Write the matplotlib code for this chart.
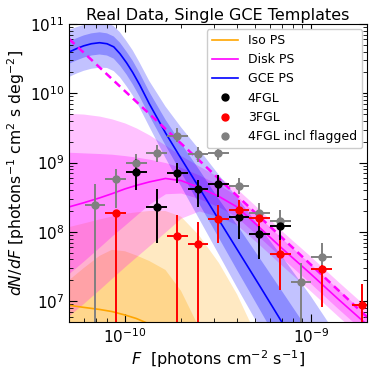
import numpy as np
import matplotlib
matplotlib.use('Agg')
import matplotlib.pyplot as plt
from matplotlib.lines import Line2D
from matplotlib.ticker import NullFormatter

# flux grid for the Iso / Disk posterior bands
flux_grid = [5e-11, 6e-11, 7.3e-11, 8.5e-11, 1e-10, 1.15e-10, 1.35e-10, 1.65e-10, 2e-10,
             2.5e-10, 3.2e-10, 4e-10, 5.3e-10, 7e-10, 1e-9, 1.4e-9, 2e-9]

# Iso PS
iso_med = [8.71e6, 8.13e6, 7.59e6, 7.08e6, 6.31e6, 5.62e6, 4.68e6, 3.16e6, 2.0e6,
           1.0e6, 4e5, 1.6e5, 5e4, 1e4, 1e3, 1e2, 1e1]
iso_lo68 = [3.0e6, 2.8e6, 2.5e6, 2.2e6, 1.9e6, 1.6e6, 1.2e6, 8e5, 5e5,
            2e5, 8e4, 3e4, 1e4, 2e3, 2e2, 2e1, 2]
iso_hi68 = [2.0e7, 3.0e7, 4.5e7, 5.5e7, 5.25e7, 4.57e7, 3.80e7, 2.82e7, 1.41e7,
            4.17e6, 1e6, 2.5e5, 1e5, 1e4, 1e3, 1e2, 1e1]
iso_lo95 = [1e6, 9e5, 8e5, 7e5, 6e5, 5e5, 4e5, 3e5, 2e5,
            8e4, 3e4, 1e4, 3e3, 5e2, 5e1, 5, 0.5]
iso_hi95 = [1.17e8, 1.32e8, 1.51e8, 1.66e8, 1.82e8, 1.91e8, 2.0e8, 2.0e8, 1.66e8,
            8.91e7, 3.55e7, 1.26e7, 2.51e6, 3.16e5, 1e4, 1e3, 1e2]

# Disk PS
disk_med = [2.29e8, 2.63e8, 3.09e8, 3.55e8, 4.17e8, 4.68e8, 5.25e8, 5.89e8, 5.50e8,
            4.37e8, 3.24e8, 2.29e8, 1.15e8, 5.75e7, 2.45e7, 1.07e7, 4.57e6]
disk_lo68 = [2.51e7, 3.80e7, 6.03e7, 8.71e7, 1.26e8, 1.74e8, 2.51e8, 3.55e8, 3.63e8,
             3.02e8, 2.29e8, 1.62e8, 8.32e7, 4.17e7, 1.78e7, 7.76e6, 3.31e6]
disk_hi68 = [1.41e9, 1.38e9, 1.35e9, 1.32e9, 1.26e9, 1.20e9, 1.12e9, 1.0e9, 8.51e8,
             6.61e8, 4.79e8, 3.31e8, 1.62e8, 7.94e7, 3.39e7, 1.48e7, 6.31e6]
disk_lo95 = [6.17e6, 9.33e6, 1.48e7, 2.14e7, 3.16e7, 4.37e7, 6.31e7, 1.0e8, 1.58e8,
             2.0e8, 1.66e8, 1.26e8, 6.46e7, 3.24e7, 1.38e7, 6.03e6, 2.57e6]
disk_hi95 = [5.13e9, 5.01e9, 4.68e9, 4.27e9, 3.72e9, 3.16e9, 2.51e9, 1.78e9, 1.26e9,
             8.91e8, 6.17e8, 4.17e8, 2.09e8, 1.02e8, 4.37e7, 1.91e7, 8.13e6]
disk_ref_flux = [5e-11, 2e-9]
disk_ref = [6.1e10, 5.9e6]

# GCE PS (finer grid around the break)
gce_flux = [5e-11, 5.5e-11, 6e-11, 6.6e-11, 7.3e-11, 8e-11, 8.7e-11, 9.4e-11, 1.02e-10,
            1.1e-10, 1.2e-10, 1.35e-10, 1.65e-10, 2e-10, 2.5e-10, 3.2e-10, 4e-10, 5.3e-10,
            7e-10, 1e-9, 1.4e-9, 2e-9]
gce_med = [3.94e10, 4.42e10, 4.84e10, 5.19e10, 5.37e10, 5.19e10, 4.68e10, 3.72e10, 2.75e10,
           2.0e10, 1.32e10, 7.08e9, 2.69e9, 1.15e9, 4.37e8, 1.48e8, 5.62e7, 1.66e7,
           4.90e6, 1.05e6, 2.4e5, 5.0e4]
gce_hi68 = [5.56e10, 6.24e10, 6.84e10, 7.33e10, 7.59e10, 7.33e10, 6.61e10, 5.37e10, 3.98e10,
            2.95e10, 1.95e10, 1.05e10, 4.17e9, 1.91e9, 7.94e8, 2.95e8, 1.26e8, 4.17e7,
            1.38e7, 3.31e6, 8.5e5, 2.0e5]
gce_lo68 = [2.66e10, 2.99e10, 3.27e10, 3.51e10, 3.63e10, 3.51e10, 3.16e10, 2.51e10, 1.86e10,
            1.35e10, 8.91e9, 4.79e9, 1.78e9, 7.24e8, 2.57e8, 8.13e7, 2.82e7, 7.59e6,
            2.04e6, 4.0e5, 8.5e4, 1.6e4]
gce_hi95 = [8.22e10, 9.02e10, 9.66e10, 1.04e11, 1.07e11, 1.04e11, 9.33e10, 7.59e10, 5.62e10,
            4.17e10, 2.75e10, 1.51e10, 6.46e9, 3.24e9, 1.55e9, 6.61e8, 3.16e8, 1.17e8,
            4.37e7, 1.17e7, 3.0e6, 7.9e5]
gce_lo95 = [1.72e10, 1.93e10, 2.11e10, 2.26e10, 2.34e10, 2.32e10, 2.09e10, 1.70e10, 1.26e10,
            9.33e9, 6.17e9, 3.31e9, 1.17e9, 4.57e8, 1.55e8, 4.68e7, 1.58e7, 4.17e6,
            1.1e6, 2.1e5, 4.3e4, 7.9e3]

# catalogue source counts
fgl4_flux = [1.15e-10, 1.48e-10, 1.91e-10, 2.47e-10, 3.18e-10, 4.09e-10, 5.28e-10, 6.85e-10]
fgl4_val = [7.35e8, 2.29e8, 7.1e8, 4.1e8, 4.84e8, 1.64e8, 9.4e7, 1.22e8]
fgl4_lo = [4.0e8, 6.8e7, 5.0e8, 2.29e8, 3.2e8, 7.9e7, 4.1e7, 6.8e7]
fgl4_hi = [1.12e9, 4.2e8, 9.8e8, 5.56e8, 6.6e8, 2.29e8, 1.32e8, 1.45e8]

fgl3_flux = [8.9e-11, 1.91e-10, 2.47e-10, 3.18e-10, 4.09e-10, 5.28e-10, 6.85e-10, 1.14e-9, 1.89e-9]
fgl3_val = [1.9e8, 8.7e7, 6.76e7, 1.55e8, 2.05e8, 1.59e8, 4.85e7, 2.9e7, 8.7e6]
fgl3_lo = [1e6, 1e6, 1e6, 6.8e7, 1.48e8, 1.2e8, 1.45e7, 8.3e6, 1e6]
fgl3_hi = [2.1e8, 1.74e8, 1.38e8, 2.43e8, 2.88e8, 2.0e8, 7.6e7, 3.3e7, 1.74e7]

flag_flux = [6.9e-11, 8.9e-11, 1.15e-10, 1.48e-10, 1.91e-10, 2.47e-10, 3.18e-10, 4.09e-10,
             5.28e-10, 6.85e-10, 8.85e-10, 1.14e-9]
flag_val = [2.48e8, 5.7e8, 1.0e9, 1.39e9, 2.44e9, 1.31e9, 1.39e9, 4.57e8, 1.88e8, 1.45e8, 1.88e7, 4.4e7]
flag_lo = [1e6, 2.2e8, 7.35e8, 1.02e9, 2.0e9, 1.02e9, 1.1e9, 3.55e8, 1.48e8, 1.05e8, 1e6, 2.24e7]
flag_hi = [4.9e8, 8.2e8, 1.35e9, 1.79e9, 3.13e9, 1.7e9, 1.7e9, 5.9e8, 2.62e8, 2.04e8, 3.6e7, 6.8e7]

x_ticks = [1e-10, 1e-9]
y_ticks = [1e7, 1e8, 1e9, 1e10, 1e11]

bin_halfwidth = 0.055  # in decades

fig = plt.figure(figsize=(3.74, 3.72), dpi=100)
ax = fig.add_axes([69/374, 1 - 322/372, 298/374, 298/372])

for F, med, lo68, hi68, lo95, hi95, col in [
        (flux_grid, iso_med, iso_lo68, iso_hi68, iso_lo95, iso_hi95, 'orange'),
        (flux_grid, disk_med, disk_lo68, disk_hi68, disk_lo95, disk_hi95, 'magenta'),
        (gce_flux, gce_med, gce_lo68, gce_hi68, gce_lo95, gce_hi95, 'blue')]:
    ax.fill_between(F, lo95, hi95, color=col, alpha=0.24, lw=0)
    ax.fill_between(F, lo68, hi68, color=col, alpha=0.28, lw=0)
    ax.plot(F, med, color=col, lw=1.2)

ax.plot(disk_ref_flux, disk_ref, color='magenta', lw=1.8, ls=(0, (3, 2)))


def draw_points(flux, val, lo, hi, col):
    flux = np.array(flux)
    val = np.array(val)
    xerr = [flux - flux / 10**bin_halfwidth, flux * 10**bin_halfwidth - flux]
    yerr = [val - np.array(lo), np.array(hi) - val]
    ax.errorbar(flux, val, xerr=xerr, yerr=yerr, fmt='o', color=col, ms=5,
                elinewidth=1.4, capsize=0)


draw_points(flag_flux, flag_val, flag_lo, flag_hi, 'gray')
draw_points(fgl4_flux, fgl4_val, fgl4_lo, fgl4_hi, 'black')
draw_points(fgl3_flux, fgl3_val, fgl3_lo, fgl3_hi, 'red')

ax.set_xscale('log')
ax.set_yscale('log')
ax.set_xticks(x_ticks)
ax.set_yticks(y_ticks)
ax.set_xlim(5e-11, 2e-9)
ax.set_ylim(5e6, 1e11)
ax.xaxis.set_minor_formatter(NullFormatter())
ax.yaxis.set_minor_formatter(NullFormatter())
ax.tick_params(which='both', direction='in', top=True, right=True, labelsize=11)
ax.tick_params(which='major', length=6)
ax.tick_params(which='minor', length=3)

ax.set_title('Real Data, Single GCE Templates', fontsize=11.5, pad=3)
ax.set_xlabel(r'$F$  [photons cm$^{-2}$ s$^{-1}$]', fontsize=11.5, labelpad=2)
ax.set_ylabel(r'$dN/dF$ [photons$^{-1}$ cm$^2$ s deg$^{-2}$]', fontsize=11.3, labelpad=2)

handles = [Line2D([], [], color='orange', lw=1.2),
           Line2D([], [], color='magenta', lw=1.2),
           Line2D([], [], color='blue', lw=1.2),
           Line2D([], [], color='black', marker='o', ls='', ms=5),
           Line2D([], [], color='red', marker='o', ls='', ms=5),
           Line2D([], [], color='gray', marker='o', ls='', ms=5)]
labels = ['Iso PS', 'Disk PS', 'GCE PS', '4FGL', '3FGL', '4FGL incl flagged']
ax.legend(handles, labels, loc='upper right', fontsize=9, handlelength=2.1,
          framealpha=1, borderaxespad=0.4)

fig.savefig('out.png', dpi=100)
